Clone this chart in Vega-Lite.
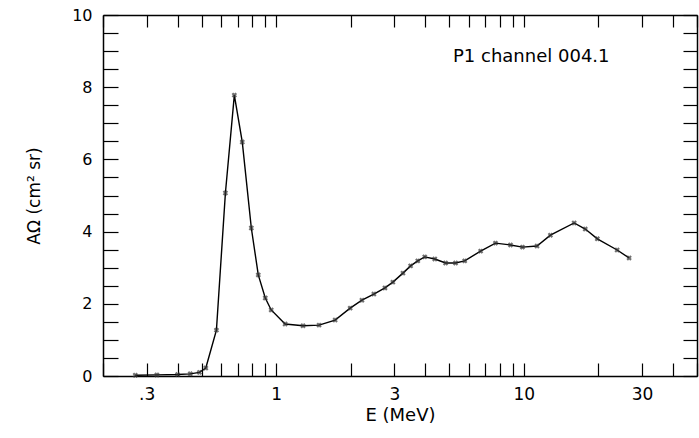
{
  "$schema": "https://vega.github.io/schema/vega-lite/v6.json",
  "width": 594,
  "height": 361,
  "autosize": {"type": "none"},
  "padding": {"left": 103, "top": 15, "right": 2, "bottom": 62},
  "background": "white",
  "title": {
    "text": "P1 channel 004.1",
    "anchor": "start",
    "frame": "group",
    "orient": "top",
    "offset": -59,
    "dx": 350,
    "fontSize": 18,
    "fontWeight": "normal",
    "font": "DejaVu Sans",
    "color": "black"
  },
  "config": {
    "view": {"stroke": null},
    "font": "DejaVu Sans",
    "axis": {
      "domainColor": "black",
      "domainWidth": 1.5,
      "tickColor": "black",
      "tickWidth": 1.2,
      "grid": false,
      "labelColor": "black",
      "titleColor": "black",
      "labelFont": "DejaVu Sans",
      "titleFont": "DejaVu Sans",
      "titleFontWeight": "normal",
      "labelOverlap": false,
      "labelFlush": false
    }
  },
  "data": {
    "values": [
      {"E": 0.27, "A": 0.02},
      {"E": 0.33, "A": 0.03},
      {"E": 0.40, "A": 0.04},
      {"E": 0.45, "A": 0.06},
      {"E": 0.49, "A": 0.1},
      {"E": 0.52, "A": 0.22},
      {"E": 0.574, "A": 1.27},
      {"E": 0.624, "A": 5.07},
      {"E": 0.678, "A": 7.78},
      {"E": 0.730, "A": 6.48},
      {"E": 0.794, "A": 4.1},
      {"E": 0.847, "A": 2.8},
      {"E": 0.904, "A": 2.16},
      {"E": 0.955, "A": 1.83},
      {"E": 1.087, "A": 1.44},
      {"E": 1.284, "A": 1.39},
      {"E": 1.49, "A": 1.41},
      {"E": 1.73, "A": 1.55},
      {"E": 1.99, "A": 1.88},
      {"E": 2.22, "A": 2.1},
      {"E": 2.48, "A": 2.27},
      {"E": 2.75, "A": 2.44},
      {"E": 2.96, "A": 2.6},
      {"E": 3.25, "A": 2.85},
      {"E": 3.49, "A": 3.05},
      {"E": 3.73, "A": 3.19},
      {"E": 3.98, "A": 3.3},
      {"E": 4.37, "A": 3.24},
      {"E": 4.83, "A": 3.13},
      {"E": 5.3, "A": 3.13},
      {"E": 5.77, "A": 3.19},
      {"E": 6.69, "A": 3.46},
      {"E": 7.68, "A": 3.68},
      {"E": 8.83, "A": 3.63},
      {"E": 9.87, "A": 3.57},
      {"E": 11.3, "A": 3.6},
      {"E": 12.8, "A": 3.9},
      {"E": 15.96, "A": 4.24},
      {"E": 17.7, "A": 4.07},
      {"E": 19.8, "A": 3.8},
      {"E": 23.8, "A": 3.49},
      {"E": 26.6, "A": 3.27}
    ]
  },
  "layer": [
    {
      "mark": {"type": "line", "color": "black", "strokeWidth": 1.4},
      "encoding": {
        "x": {
          "field": "E",
          "type": "quantitative",
          "scale": {"type": "log", "domain": [0.2, 50], "nice": false},
          "axis": {
            "orient": "bottom",
            "values": [0.2, 0.3, 0.4, 0.5, 0.6, 0.7, 0.8, 0.9, 1, 2, 3, 4, 5, 6, 7, 8, 9, 10, 20, 30, 40, 50],
            "tickSize": -13,
            "labelExpr": "datum.value == 0.3 ? '.3' : ((datum.value == 1 || datum.value == 3 || datum.value == 10 || datum.value == 30) ? '' + datum.value : '')",
            "labelFontSize": 17,
            "labelPadding": 23,
            "title": "E (MeV)",
            "titleFontSize": 18,
            "titlePadding": 4
          }
        },
        "y": {
          "field": "A",
          "type": "quantitative",
          "scale": {"domain": [0, 10], "nice": false},
          "axis": {
            "orient": "left",
            "values": [0, 0.5, 1, 1.5, 2, 2.5, 3, 3.5, 4, 4.5, 5, 5.5, 6, 6.5, 7, 7.5, 8, 8.5, 9, 9.5, 10],
            "tickSize": -15,
            "labelExpr": "datum.value % 2 == 0 ? '' + datum.value : ''",
            "labelFontSize": 16,
            "labelPadding": 26,
            "title": "AΩ (cm² sr)",
            "titleFontSize": 17,
            "titlePadding": 28
          }
        }
      }
    },
    {
      "mark": {"type": "point", "shape": "cross", "angle": 45, "filled": true, "color": "#333333", "size": 30},
      "encoding": {
        "x": {
          "field": "E",
          "type": "quantitative",
          "scale": {"type": "log", "domain": [0.2, 50], "nice": false},
          "axis": {
            "orient": "top",
            "values": [0.2, 0.3, 0.4, 0.5, 0.6, 0.7, 0.8, 0.9, 1, 2, 3, 4, 5, 6, 7, 8, 9, 10, 20, 30, 40, 50],
            "tickSize": -12,
            "labels": false,
            "title": null
          }
        },
        "y": {
          "field": "A",
          "type": "quantitative",
          "scale": {"domain": [0, 10], "nice": false},
          "axis": {
            "orient": "right",
            "values": [0, 0.5, 1, 1.5, 2, 2.5, 3, 3.5, 4, 4.5, 5, 5.5, 6, 6.5, 7, 7.5, 8, 8.5, 9, 9.5, 10],
            "tickSize": -14,
            "labels": false,
            "title": null
          }
        }
      }
    }
  ],
  "resolve": {"axis": {"x": "independent", "y": "independent"}}
}
